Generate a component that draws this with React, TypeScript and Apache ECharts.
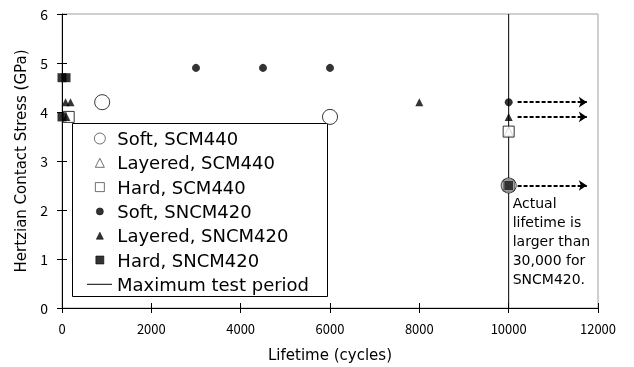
import React, { useEffect, useRef } from "react";
import * as echarts from "echarts";

// ---- data ----
const xTicks = { min: 0, max: 12000, interval: 2000 };
const yTicks = { min: 0, max: 6, interval: 1 };

const softSCM440: [number, number][] = [[900, 4.2], [6000, 3.9], [10000, 2.5]];
const layeredSCM440: [number, number][] = [[10000, 3.6]];
const hardSCM440: [number, number][] = [[150, 3.9], [10000, 3.6], [10000, 2.5]];
const softSNCM420: [number, number][] = [[3000, 4.9], [4500, 4.9], [6000, 4.9], [10000, 4.2]];
const layeredSNCM420: [number, number][] = [[80, 4.2], [190, 4.2], [100, 3.9], [8000, 4.2], [10000, 3.9]];
const hardSNCM420: [number, number][] = [[0, 4.7], [90, 4.7], [0, 3.9], [10000, 2.5]];
const maxTestPeriod: [number, number][] = [[10000, 0], [10000, 6]];

const arrowYs = [4.2, 3.9, 2.5];
const arrowFrom = 10200;
const arrowTo = 11750;

const seriesNames = [
  "Soft, SCM440",
  "Layered, SCM440",
  "Hard, SCM440",
  "Soft, SNCM420",
  "Layered, SNCM420",
  "Hard, SNCM420",
  "Maximum test period",
];
const legendShapes = ["circle", "triangle", "rect", "circle", "triangle", "rect", "line"];
const annotationLines = ["Actual", "lifetime is", "larger than", "30,000 for", "SNCM420."];

const TXT = "DejaVu Sans";
const NUM = "Noto Sans CJK JP";

// legend icon drawn inside a W x s box (keeps the symbol undistorted)
const W = 25;
function iconPath(shape: string, s: number): string {
  const c = W / 2;
  const r = s / 2;
  const frame = `M0,0L0,0M${W},${s}L${W},${s}`;
  if (shape === "circle")
    return `path://${frame}M${c - r},${r}A${r},${r},0,1,0,${c + r},${r}A${r},${r},0,1,0,${c - r},${r}Z`;
  if (shape === "triangle") return `path://${frame}M${c},0L${c + r},${s}L${c - r},${s}Z`;
  if (shape === "rect") return `path://${frame}M${c - r},0L${c + r},0L${c + r},${s}L${c - r},${s}Z`;
  return "rect";
}

export default function App() {
  const ref = useRef<HTMLDivElement>(null);
  useEffect(() => {
    if (!ref.current) return;
    const chart = echarts.init(ref.current, null, { renderer: "svg" });

    const legendIconSizes = [11, 9, 9, 7, 7, 8, 1];
    const rowCenters = [138.5, 162.8, 187.1, 211.4, 235.7, 260, 284.3];

    const scatter = (name: string, data: [number, number][], symbol: string, size: number, filled: boolean) => ({
      name,
      type: "scatter",
      data,
      symbol,
      symbolSize: size,
      itemStyle: filled
        ? { color: "#000", borderColor: "#000", borderWidth: 0 }
        : { color: "#fff", borderColor: "#000", borderWidth: 1 },
      z: filled ? 4 : 3,
    });

    const axisCommon = {
      axisLine: { show: true, lineStyle: { color: "#000", width: 1 } },
      splitLine: { show: false },
    };

    const legendBox = {
      id: "legendBox",
      type: "rect",
      z: 1,
      shape: { x: 72.5, y: 123.5, width: 255, height: 173 },
      style: { fill: "#fff", stroke: "#000", lineWidth: 1 },
    };

    chart.setOption({
      animation: false,
      grid: { left: 62, right: 36, top: 14, bottom: 59, show: true, borderColor: "#a0a0a0", borderWidth: 1 },
      xAxis: [
        {
          type: "value",
          ...xTicks,
          ...axisCommon,
          name: "Lifetime (cycles)",
          nameLocation: "middle",
          nameGap: 39,
          nameTextStyle: { fontFamily: TXT, fontSize: 15, color: "#000" },
          axisTick: { show: true, length: 5, lineStyle: { color: "#000" } },
          axisLabel: { margin: 14, fontFamily: NUM, fontSize: 13, color: "#000", formatter: (v: number) => String(v) },
        },
        {
          type: "value",
          ...xTicks,
          position: "bottom",
          axisLine: { show: false },
          splitLine: { show: false },
          axisTick: { show: true, inside: true, length: 5, lineStyle: { color: "#000" } },
          axisLabel: { show: false },
        },
      ],
      yAxis: [
        {
          type: "value",
          ...yTicks,
          ...axisCommon,
          name: "Hertzian Contact Stress (GPa)",
          nameLocation: "middle",
          nameGap: 34,
          nameTextStyle: { fontFamily: TXT, fontSize: 15, color: "#000" },
          axisTick: { show: true, length: 5, lineStyle: { color: "#000" } },
          axisLabel: { margin: 14, fontFamily: NUM, fontSize: 14, color: "#000" },
        },
        {
          type: "value",
          ...yTicks,
          position: "left",
          axisLine: { show: false },
          splitLine: { show: false },
          axisTick: { show: true, inside: true, length: 5, lineStyle: { color: "#000" } },
          axisLabel: { show: false },
        },
      ],
      legend: seriesNames.map((name, i) => ({
        data: [{ name, icon: iconPath(legendShapes[i], legendIconSizes[i]) }],
        left: 87,
        top: rowCenters[i] - 10,
        orient: "horizontal",
        itemWidth: W,
        itemHeight: legendIconSizes[i],
        padding: 0,
        itemGap: 0,
        selectedMode: false,
        itemStyle: { borderWidth: 0.7 },
        textStyle: { fontFamily: TXT, fontSize: 18, color: "#000", lineHeight: 20 },
      })),
      series: [
        {
          name: seriesNames[6],
          type: "line",
          data: maxTestPeriod,
          symbol: "none",
          showSymbol: false,
          lineStyle: { color: "#000", width: 1 },
          itemStyle: { color: "#000" },
          z: 2,
          markLine: {
            silent: true,
            symbol: ["none", "arrow"],
            symbolSize: [8, 8],
            label: { show: false },
            lineStyle: { color: "#000", width: 2, type: [4, 2] },
            data: arrowYs.map((y) => [{ coord: [arrowFrom, y] }, { coord: [arrowTo, y] }]),
          },
        },
        scatter(seriesNames[0], softSCM440, "circle", 15, false),
        scatter(seriesNames[1], layeredSCM440, "triangle", 9, false),
        scatter(seriesNames[2], hardSCM440, "rect", 11, false),
        scatter(seriesNames[3], softSNCM420, "circle", 8, true),
        scatter(seriesNames[4], layeredSNCM420, "triangle", 8, true),
        scatter(seriesNames[5], hardSNCM420, "rect", 9, true),
      ],
      graphic: { elements: [legendBox] },
    });

    const p = chart.convertToPixel({ gridIndex: 0 }, [10000, 2.5]) as number[];
    chart.setOption({
      graphic: {
        elements: [
          legendBox,
          {
            id: "note",
            type: "text",
            z: 5,
            x: p[0] + 4,
            y: p[1] + 8,
            style: {
              text: annotationLines.join("\n"),
              fontFamily: TXT,
              fontSize: 14,
              lineHeight: 19,
              fill: "#000",
              align: "left",
              verticalAlign: "top",
            },
          },
        ],
      },
    });

    return () => chart.dispose();
  }, []);
  return <div ref={ref} style={{ position: "fixed", left: 0, top: 0, width: 634, height: 367 }} />;
}
